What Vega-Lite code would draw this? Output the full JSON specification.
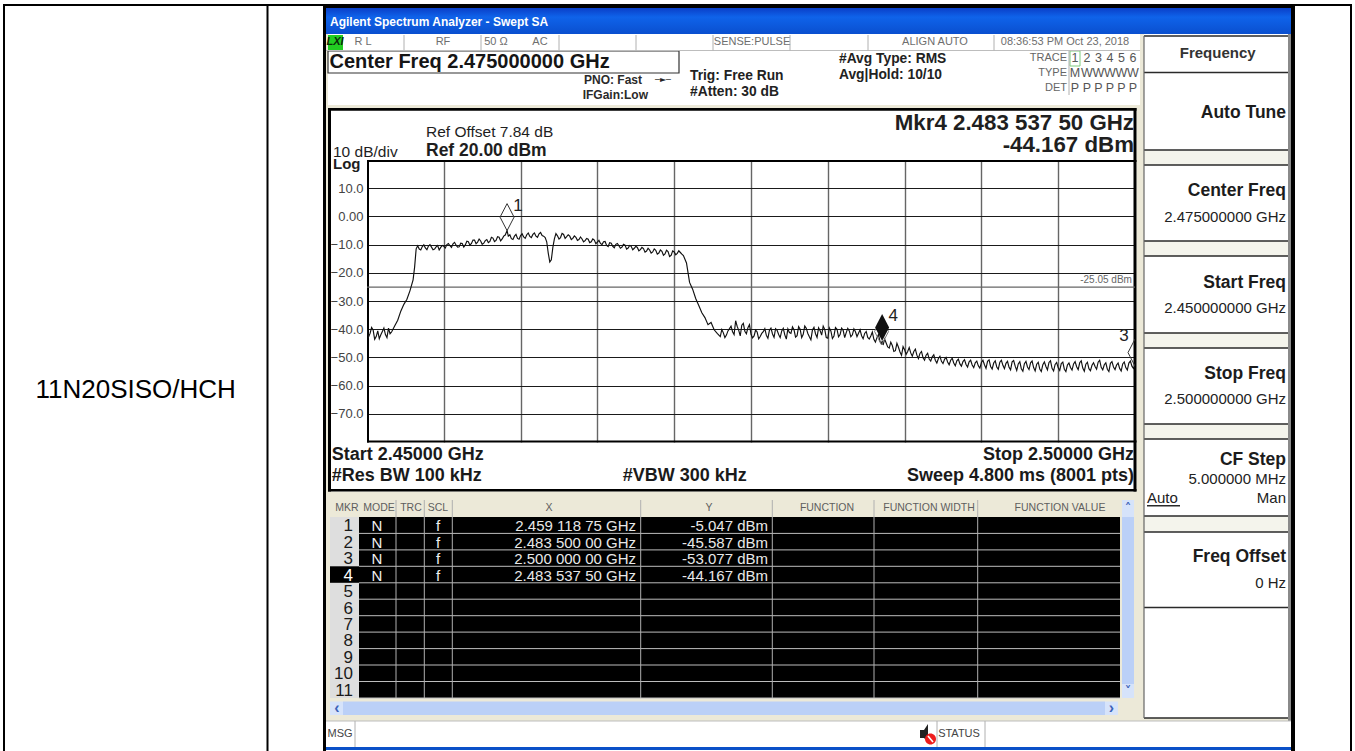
{"$schema":"https://vega.github.io/schema/vega-lite/v6.json","width":768,"height":282,"autosize":{"type":"none"},"padding":{"left":367,"top":160,"right":220,"bottom":309},"background":"#ffffff","config":{"view":{"stroke":null},"text":{"font":"Liberation Sans","baseline":"middle"},"axis":{"labelFont":"Liberation Sans"}},"resolve":{"scale":{"x":"independent","y":"independent"}},"layer":[
{"encoding":{"x":{"field":"gx","type":"quantitative","axis":null,"scale":{"nice":false,"zero":false,"domain":[0,1,2,3,4,5,6,7,8,9,10,11,12,13,14,15,16,17,18,19,20,21,22,23,24,25,26,27,28,29,30,31,32,33,34,35,36,37,38,39,40,41,42,43,44,45,46,47,48,49,50,51,52,53,54,55,56,57,58,59,60,61,62,63,64,65,66,67,68,69,70,71,72,73,74,75,76,77,78,79,80,81,82,83,84,85,86,87,88,89,90,91,92,93,94,95,96,97,98,99,100],"range":[-367,988,-364,-362,-100.5,-98.5,983,985,-44,928,-41,924,921,777,770,769.5,-39,753,755,767,-37,-8,29,57.3,85.3,273.7,405.3,507,610.7,738,751,-24,-12,570,618,37,114,192,269,346,423,501,627,773,312,702,-36,-231.3,-4,76,129,173,385,568,698,-37.5,275,281,296,323,472,700,708,720,731.5,743,754.5,766,850.7,919,780,813,59,-34,-35.3,255.7,-14,10,71,401,-20,12,44,182,342,460,562,693,761,-30,744.5,-27,592,0,766.5,2,560,703,713,918,-32]}},"y":{"field":"gy","type":"quantitative","axis":null,"scale":{"nice":false,"zero":false,"domain":[0,1,2,3,4,5,6,7,8,9,10,11,12,13,14,15,16,17,18,19,20,21,22,23,24,25,26,27,28,29,30,31,32,33,34,35,36,37,38,39,40,41,42,43,44,45,46,47,48,49,50,51,52,53,54,55,56,57,58,59,60,61,62,63,64,65,66,67,68,69,70,71,72,73,74,75,76,77,78,79,80,81,82,83,84,85,86,87,88,89,90,91,92,93,94,95,96,97,98,99,100,101,102,103,104],"range":[-160,591,-156,-154,-152,-126,-109.5,-87,-109,-55,-52,331.5,340,357,373.4,389.9,406.3,422.8,439.2,455.7,472.1,488.6,505,521.5,538,541.5,555,561,587,590,-124,-87.5,-10,5,81,96,173,188,264,279,356,372,447.5,558,0,-138.3,-118.3,-97.7,-80,-65,-84.3,-67.7,-100.7,-85,-102,-87,-72,-107.3,-47.3,31.3,56.7,122.7,147.7,214.3,239.3,300,319.3,338,397.3,423.3,345.7,-28,-9.3,-8.3,4,-37.3,-15,295,315.7,348,366.2,382.7,399.1,415.6,432,448.5,464.9,481.4,497.8,514.3,530.7,548,574,230,531,-125,120,282.5,-49.3,280.5,329,524,2,-94,-65]}}},
"layer":[
{"data":{"values":[{"gx":10,"gx2":11,"gy":4,"gy2":5}]},"mark":{"type":"rect","color":{"gradient":"linear","x1":0,"y1":0,"x2":0,"y2":1,"stops":[{"offset":0,"color":"#0A3FC8"},{"offset":0.35,"color":"#0F63EA"},{"offset":1,"color":"#0A4FCF"}]}},"encoding":{"x2":{"field":"gx2"},"y2":{"field":"gy2"}}},
{"data":{"values":[
{"p":"black","gx":2,"gx2":7,"gy":2,"gy2":3},{"p":"black","gx":2,"gx2":3,"gy":2,"gy2":1},{"p":"black","gx":4,"gx2":5,"gy":2,"gy2":1},{"p":"black","gx":6,"gx2":7,"gy":2,"gy2":1},
{"p":"black","gx":8,"gx2":10,"gy":2,"gy2":1},{"p":"black","gx":11,"gx2":9,"gy":2,"gy2":1},{"p":"black","gx":8,"gx2":9,"gy":2,"gy2":4},
{"p":"beige","gx":10,"gx2":16,"gy":5,"gy2":27},{"p":"beige","gx":10,"gx2":43,"gy":9,"gy2":10},{"p":"beige","gx":43,"gx2":13,"gy":5,"gy2":10},{"p":"beige","gx":15,"gx2":13,"gy":10,"gy2":27},{"p":"beige","gx":10,"gx2":13,"gy":11,"gy2":13},{"p":"beige","gx":10,"gx2":20,"gy":11,"gy2":27},{"p":"beige","gx":17,"gx2":13,"gy":12,"gy2":27},{"p":"beige","gx":10,"gx2":13,"gy":24,"gy2":27},{"p":"beige","gx":13,"gx2":11,"gy":43,"gy2":27},
{"p":"gap","gx":13,"gx2":12,"gy":32,"gy2":33},{"p":"gap","gx":13,"gx2":12,"gy":34,"gy2":35},{"p":"gap","gx":13,"gx2":12,"gy":36,"gy2":37},{"p":"gap","gx":13,"gx2":12,"gy":38,"gy2":39},{"p":"gap","gx":13,"gx2":12,"gy":40,"gy2":41},
{"p":"gray","gx":12,"gx2":11,"gy":5,"gy2":27},
{"p":"black","gx":16,"gx2":46,"gy":10,"gy2":11},{"p":"black","gx":16,"gx2":15,"gy":10,"gy2":98},{"p":"black","gx":94,"gx2":15,"gy":10,"gy2":11},{"p":"black","gx":16,"gx2":15,"gy":100,"gy2":11},{"p":"black","gx":93,"gx2":15,"gy":44,"gy2":102},{"p":"black","gx":93,"gx2":95,"gy":44,"gy2":97},{"p":"black","gx":93,"gx2":15,"gy":99,"gy2":97},
{"p":"rows","gx":20,"gx2":21,"gy":13,"gy2":24},{"p":"black","gx":21,"gx2":17,"gy":13,"gy2":24},{"p":"black","gx":20,"gx2":21,"gy":16,"gy2":17},
{"p":"scroll","gx":31,"gx2":29,"gy":25,"gy2":26},{"p":"button","gx":20,"gx2":31,"gy":25,"gy2":26},{"p":"button","gx":29,"gx2":30,"gy":25,"gy2":26},{"p":"scroll","gx":18,"gx2":19,"gy":13,"gy2":101},{"p":"button","gx":18,"gx2":19,"gy":12,"gy2":13},{"p":"button","gx":18,"gx2":19,"gy":101,"gy2":24},
{"p":"blue","gx":10,"gx2":11,"gy":28,"gy2":29},{"p":"lxi","gx":16,"gx2":31,"gy":95,"gy2":6}
]},"mark":{"type":"rect"},"encoding":{"x2":{"field":"gx2"},"y2":{"field":"gy2"},"color":{"field":"p","type":"nominal","legend":null,"scale":{"domain":["black","beige","gap","gray","rows","scroll","button","blue","lxi"],"range":["#000000","#ECE9D8","#F4F4EC","#8A8A8A","#DEDEDE","#BBD0F7","#D6E3FA","#0A50C8","#22CC22"]}}}},
{"data":{"values":[{"gx":16,"gx2":44,"gy":8,"gy2":7}]},"mark":{"type":"rect","fillOpacity":0,"stroke":"#333333","strokeWidth":1.2},"encoding":{"x2":{"field":"gx2"},"y2":{"field":"gy2"}}},
{"data":{"values":[{"gx":97,"gx2":98,"gy":8,"gy2":103}]},"mark":{"type":"rect","fillOpacity":0,"stroke":"#7FCC7F","strokeWidth":1},"encoding":{"x2":{"field":"gx2"},"y2":{"field":"gy2"}}},
{"data":{"values":[{"gx":21,"gx2":17,"gy":14},{"gx":21,"gx2":17,"gy":15},{"gx":21,"gx2":17,"gy":16},{"gx":21,"gx2":17,"gy":17},{"gx":21,"gx2":17,"gy":18},{"gx":21,"gx2":17,"gy":19},{"gx":21,"gx2":17,"gy":20},{"gx":21,"gx2":17,"gy":21},{"gx":21,"gx2":17,"gy":22},{"gx":21,"gx2":17,"gy":23},{"gx":21,"gx2":17,"gy":24},{"gx":10,"gx2":43,"gy":6},{"gx":10,"gx2":11,"gy":27}]},"mark":{"type":"rule","color":"#BDBDBD","strokeWidth":1},"encoding":{"x2":{"field":"gx2"}}},
{"data":{"values":[{"gx":22,"gy":12,"gy2":24},{"gx":23,"gy":12,"gy2":24},{"gx":24,"gy":12,"gy2":24},{"gx":25,"gy":12,"gy2":24},{"gx":26,"gy":12,"gy2":24},{"gx":27,"gy":12,"gy2":24},{"gx":28,"gy":12,"gy2":24},{"gx":35,"gy":95,"gy2":6},{"gx":36,"gy":95,"gy2":6},{"gx":37,"gy":95,"gy2":6},{"gx":38,"gy":95,"gy2":6},{"gx":39,"gy":95,"gy2":6},{"gx":40,"gy":95,"gy2":6},{"gx":41,"gy":95,"gy2":6},{"gx":42,"gy":95,"gy2":6},{"gx":45,"gy":8,"gy2":104},{"gx":32,"gy":27,"gy2":28},{"gx":33,"gy":27,"gy2":28},{"gx":34,"gy":27,"gy2":28}]},"mark":{"type":"rule","color":"#B0B0B0","strokeWidth":1},"encoding":{"y2":{"field":"gy2"}}},
{"data":{"values":[{"gx":13,"gx2":12,"gy":30},{"gx":13,"gx2":12,"gy":31},{"gx":13,"gx2":12,"gy":32},{"gx":13,"gx2":12,"gy":33},{"gx":13,"gx2":12,"gy":34},{"gx":13,"gx2":12,"gy":35},{"gx":13,"gx2":12,"gy":36},{"gx":13,"gx2":12,"gy":37},{"gx":13,"gx2":12,"gy":38},{"gx":13,"gx2":12,"gy":39},{"gx":13,"gx2":12,"gy":40},{"gx":13,"gx2":12,"gy":41},{"gx":13,"gx2":12,"gy":42},{"gx":13,"gx2":12,"gy":43},{"gx":70,"gx2":71,"gy":70}]},"mark":{"type":"rule","color":"#2A2A2A","strokeWidth":1.6},"encoding":{"x2":{"field":"gx2"}}},
{"data":{"values":[{"gx":13,"gy":30,"gy2":43}]},"mark":{"type":"rule","color":"#666666","strokeWidth":1.2},"encoding":{"y2":{"field":"gy2"}}},
{"data":{"values":[{"t":"11N20SISO/HCH","gx":47,"gy":93}]},"mark":{"type":"text","align":"center","fontSize":26,"color":"#000000"},"encoding":{"text":{"field":"t"}}},
{"data":{"values":[{"t":"Agilent Spectrum Analyzer - Swept SA","gx":20,"gy":45}]},"mark":{"type":"text","align":"left","fontSize":12,"fontWeight":"bold","color":"#ffffff"},"encoding":{"text":{"field":"t"}}},
{"data":{"values":[{"t":"LXI","gx":100,"gy":46}]},"mark":{"type":"text","align":"center","fontSize":11,"fontWeight":"bold","fontStyle":"italic","color":"#0A2A0A"},"encoding":{"text":{"field":"t"}}},
{"data":{"values":[{"t":"R L","gx":48,"gy":46},{"t":"RF","gx":49,"gy":46},{"t":"50 Ω","gx":50,"gy":46},{"t":"AC","gx":51,"gy":46},{"t":"SENSE:PULSE","gx":52,"gy":46},{"t":"ALIGN AUTO","gx":53,"gy":46},{"t":"08:36:53 PM Oct 23, 2018","gx":54,"gy":46}]},"mark":{"type":"text","align":"center","fontSize":11,"color":"#6E6E6E"},"encoding":{"text":{"field":"t"}}},
{"data":{"values":[{"t":"Center Freq 2.475000000 GHz","gx":55,"gy":47}]},"mark":{"type":"text","align":"left","fontSize":20,"fontWeight":"bold","color":"#151515"},"encoding":{"text":{"field":"t"}}},
{"data":{"values":[{"t":"PNO: Fast","gx":56,"gy":48},{"t":"IFGain:Low","gx":57,"gy":49}]},"mark":{"type":"text","align":"right","fontSize":12,"fontWeight":"bold","color":"#2A2A2A"},"encoding":{"text":{"field":"t"}}},
{"data":{"values":[{"t":"─►─","gx":58,"gy":48}]},"mark":{"type":"text","align":"center","fontSize":8,"font":"DejaVu Sans","color":"#222222"},"encoding":{"text":{"field":"t"}}},
{"data":{"values":[{"t":"Trig: Free Run","gx":59,"gy":50},{"t":"#Atten: 30 dB","gx":59,"gy":51},{"t":"#Avg Type: RMS","gx":60,"gy":52},{"t":"Avg|Hold: 10/10","gx":60,"gy":53}]},"mark":{"type":"text","align":"left","fontSize":13.8,"fontWeight":"bold","color":"#222222"},"encoding":{"text":{"field":"t"}}},
{"data":{"values":[{"t":"TRACE","gx":61,"gy":54},{"t":"TYPE","gx":61,"gy":55},{"t":"DET","gx":61,"gy":56}]},"mark":{"type":"text","align":"right","fontSize":11,"color":"#666666"},"encoding":{"text":{"field":"t"}}},
{"data":{"values":[{"t":"1","gx":62,"gy":54},{"t":"2","gx":63,"gy":54},{"t":"3","gx":64,"gy":54},{"t":"4","gx":65,"gy":54},{"t":"5","gx":66,"gy":54},{"t":"6","gx":67,"gy":54},{"t":"M","gx":62,"gy":55},{"t":"W","gx":63,"gy":55},{"t":"W","gx":64,"gy":55},{"t":"W","gx":65,"gy":55},{"t":"W","gx":66,"gy":55},{"t":"W","gx":67,"gy":55},{"t":"P","gx":62,"gy":56},{"t":"P","gx":63,"gy":56},{"t":"P","gx":64,"gy":56},{"t":"P","gx":65,"gy":56},{"t":"P","gx":66,"gy":56},{"t":"P","gx":67,"gy":56}]},"mark":{"type":"text","align":"center","fontSize":12.5,"color":"#555555"},"encoding":{"text":{"field":"t"}}},
{"data":{"values":[{"t":"Frequency","gx":68,"gy":57}]},"mark":{"type":"text","align":"center","fontSize":15,"fontWeight":"bold","color":"#333333"},"encoding":{"text":{"field":"t"}}},
{"data":{"values":[{"t":"Auto Tune","gx":69,"gy":58},{"t":"Center Freq","gx":69,"gy":59},{"t":"Start Freq","gx":69,"gy":61},{"t":"Stop Freq","gx":69,"gy":63},{"t":"CF Step","gx":69,"gy":65},{"t":"Freq Offset","gx":69,"gy":68}]},"mark":{"type":"text","align":"right","fontSize":17.5,"fontWeight":"bold","color":"#1C1C1C"},"encoding":{"text":{"field":"t"}}},
{"data":{"values":[{"t":"2.475000000 GHz","gx":69,"gy":60},{"t":"2.450000000 GHz","gx":69,"gy":62},{"t":"2.500000000 GHz","gx":69,"gy":64},{"t":"5.000000 MHz","gx":69,"gy":66},{"t":"0 Hz","gx":69,"gy":69},{"t":"Man","gx":69,"gy":67}]},"mark":{"type":"text","align":"right","fontSize":15,"color":"#222222"},"encoding":{"text":{"field":"t"}}},
{"data":{"values":[{"t":"Auto","gx":70,"gy":67}]},"mark":{"type":"text","align":"left","fontSize":15,"color":"#222222"},"encoding":{"text":{"field":"t"}}},
{"data":{"values":[{"t":"Ref Offset 7.84 dB","gx":72,"gy":71},{"t":"10 dB/div","gx":73,"gy":73}]},"mark":{"type":"text","align":"left","fontSize":15.5,"color":"#1E1E1E"},"encoding":{"text":{"field":"t"}}},
{"data":{"values":[{"t":"Log","gx":73,"gy":74}]},"mark":{"type":"text","align":"left","fontSize":15,"fontWeight":"bold","color":"#1E1E1E"},"encoding":{"text":{"field":"t"}}},
{"data":{"values":[{"t":"Ref  20.00 dBm","gx":72,"gy":72}]},"mark":{"type":"text","align":"left","fontSize":17.5,"fontWeight":"bold","color":"#1E1E1E"},"encoding":{"text":{"field":"t"}}},
{"data":{"values":[{"t":"Mkr4 2.483 537 50 GHz","gx":19,"gy":75},{"t":"-44.167 dBm","gx":19,"gy":76}]},"mark":{"type":"text","align":"right","fontSize":22.3,"fontWeight":"bold","color":"#1F1F1F"},"encoding":{"text":{"field":"t"}}},
{"data":{"values":[{"t":"Start 2.45000 GHz","gx":74,"gy":77},{"t":"#Res BW 100 kHz","gx":74,"gy":78},{"t":"#VBW 300 kHz","gx":75,"gy":78}]},"mark":{"type":"text","align":"left","fontSize":18,"fontWeight":"bold","color":"#1A1A1A"},"encoding":{"text":{"field":"t"}}},
{"data":{"values":[{"t":"Stop 2.50000 GHz","gx":19,"gy":77},{"t":"Sweep  4.800 ms (8001 pts)","gx":19,"gy":78}]},"mark":{"type":"text","align":"right","fontSize":18,"fontWeight":"bold","color":"#1A1A1A"},"encoding":{"text":{"field":"t"}}},
{"data":{"values":[{"t":"1","gx":76,"gy":80},{"t":"2","gx":76,"gy":81},{"t":"3","gx":76,"gy":82},{"t":"5","gx":76,"gy":84},{"t":"6","gx":76,"gy":85},{"t":"7","gx":76,"gy":86},{"t":"8","gx":76,"gy":87},{"t":"9","gx":76,"gy":88},{"t":"10","gx":76,"gy":89},{"t":"11","gx":76,"gy":90}]},"mark":{"type":"text","align":"right","fontSize":17,"color":"#1A1A1A"},"encoding":{"text":{"field":"t"}}},
{"data":{"values":[{"t":"4","gx":76,"gy":83}]},"mark":{"type":"text","align":"right","fontSize":17,"color":"#ffffff"},"encoding":{"text":{"field":"t"}}},
{"data":{"values":[{"t":"N","gx":77,"gy":80},{"t":"N","gx":77,"gy":81},{"t":"N","gx":77,"gy":82},{"t":"N","gx":77,"gy":83},{"t":"f","gx":78,"gy":80},{"t":"f","gx":78,"gy":81},{"t":"f","gx":78,"gy":82},{"t":"f","gx":78,"gy":83}]},"mark":{"type":"text","align":"center","fontSize":15,"color":"#F0F0F0"},"encoding":{"text":{"field":"t"}}},
{"data":{"values":[{"t":"2.459 118 75 GHz","gx":38,"gy":80},{"t":"2.483 500 00 GHz","gx":38,"gy":81},{"t":"2.500 000 00 GHz","gx":38,"gy":82},{"t":"2.483 537 50 GHz","gx":38,"gy":83},{"t":"-5.047 dBm","gx":79,"gy":80},{"t":"-45.587 dBm","gx":79,"gy":81},{"t":"-53.077 dBm","gx":79,"gy":82},{"t":"-44.167 dBm","gx":79,"gy":83}]},"mark":{"type":"text","align":"right","fontSize":15,"color":"#E8E8E8"},"encoding":{"text":{"field":"t"}}},
{"data":{"values":[{"t":"MKR","gx":80,"gy":79},{"t":"MODE","gx":81,"gy":79},{"t":"TRC","gx":82,"gy":79},{"t":"SCL","gx":78,"gy":79},{"t":"X","gx":83,"gy":79},{"t":"Y","gx":84,"gy":79},{"t":"FUNCTION","gx":85,"gy":79},{"t":"FUNCTION WIDTH","gx":86,"gy":79},{"t":"FUNCTION VALUE","gx":87,"gy":79}]},"mark":{"type":"text","align":"center","fontSize":10.5,"color":"#5E5E5E"},"encoding":{"text":{"field":"t"}}},
{"data":{"values":[{"t":"MSG","gx":91,"gy":92},{"t":"STATUS","gx":92,"gy":92}]},"mark":{"type":"text","align":"center","fontSize":11,"color":"#444444"},"encoding":{"text":{"field":"t"}}},
{"data":{"values":[{"t":"‹","gx":89,"gy":91},{"t":"›","gx":90,"gy":91}]},"mark":{"type":"text","align":"center","fontSize":16,"fontWeight":"bold","color":"#3C62B8"},"encoding":{"text":{"field":"t"}}},
{"data":{"values":[{"t":"˄","gx":88,"gy":79},{"t":"˅","gx":88,"gy":94}]},"mark":{"type":"text","align":"center","fontSize":13,"font":"DejaVu Sans","fontWeight":"bold","color":"#3C62B8"},"encoding":{"text":{"field":"t"}}},
{"data":{"values":[{"gx":96,"gy":92}]},"mark":{"type":"point","filled":true,"size":4,"color":"#222222","opacity":1,"shape":"M-7,-4L-3,-4L1,-10L1,8L-3,4L-7,4Z"}},
{"data":{"values":[{"gx":96,"gy":92}]},"mark":{"type":"point","filled":true,"size":4,"color":"#EE1C1C","opacity":1,"shape":"M-2,5a5.5,5.5 0 1,0 11,0a5.5,5.5 0 1,0 -11,0Z"}},
{"data":{"values":[{"gx":96,"gy":92}]},"mark":{"type":"point","filled":false,"size":4,"color":"#ffffff","strokeWidth":1.6,"opacity":1,"shape":"M1,2L6,8"}}
]},
{"encoding":{"x":{"field":"f","type":"quantitative","title":null,"scale":{"domain":[2450,2500],"nice":false,"zero":false},"axis":{"values":[2455,2460,2465,2470,2475,2480,2485,2490,2495],"labels":false,"ticks":false,"domain":false,"grid":true,"gridColor":"#666666","gridWidth":1.4,"title":null}},"y":{"field":"d","type":"quantitative","title":null,"scale":{"domain":[-80,20],"nice":false,"zero":false},"axis":{"values":[-70,-60,-50,-40,-30,-20,-10,0,10],"labelExpr":"datum.value==0?'0.00':format(datum.value,'.1f')","ticks":false,"domain":false,"grid":true,"gridColor":"#1A1A1A","gridWidth":1,"labelColor":"#444444","labelFontSize":13,"labelPadding":4,"labelOverlap":false,"title":null}}},
"layer":[
{"data":{"values":[{"d":-25.05}]},"mark":{"type":"rule","color":"#666666","strokeWidth":1.3},"encoding":{"x":null}},
{"data":{"values":[{"f":2450.0,"d":-39.8},{"f":2450.1,"d":-42.8},{"f":2450.2,"d":-41.5},{"f":2450.3,"d":-39.4},{"f":2450.4,"d":-40.3},{"f":2450.5,"d":-43.6},{"f":2450.6,"d":-42.6},{"f":2450.7,"d":-40.6},{"f":2450.8,"d":-43.4},{"f":2450.9,"d":-42.0},{"f":2451.0,"d":-40.8},{"f":2451.1,"d":-39.6},{"f":2451.2,"d":-41.9},{"f":2451.3,"d":-43.0},{"f":2451.4,"d":-39.6},{"f":2451.5,"d":-41.6},{"f":2451.6,"d":-41.0},{"f":2451.8,"d":-38.9},{"f":2452.0,"d":-36.8},{"f":2452.2,"d":-33.6},{"f":2452.4,"d":-31.2},{"f":2452.6,"d":-29.4},{"f":2452.8,"d":-26.3},{"f":2453.0,"d":-22.5},{"f":2453.1,"d":-18},{"f":2453.2,"d":-11.5},{"f":2453.3,"d":-10.4},{"f":2453.4,"d":-11.6},{"f":2453.5,"d":-11.9},{"f":2453.6,"d":-10.7},{"f":2453.7,"d":-10.1},{"f":2453.8,"d":-11.2},{"f":2453.9,"d":-11.8},{"f":2454.0,"d":-10.5},{"f":2454.1,"d":-10.0},{"f":2454.2,"d":-10.9},{"f":2454.3,"d":-11.8},{"f":2454.4,"d":-11.6},{"f":2454.5,"d":-10.8},{"f":2454.6,"d":-10.3},{"f":2454.7,"d":-11.9},{"f":2454.8,"d":-11.0},{"f":2454.9,"d":-10.3},{"f":2455.0,"d":-10.6},{"f":2455.1,"d":-11.2},{"f":2455.2,"d":-10.0},{"f":2455.3,"d":-9.6},{"f":2455.4,"d":-10.4},{"f":2455.5,"d":-11.0},{"f":2455.6,"d":-9.7},{"f":2455.7,"d":-9.2},{"f":2455.8,"d":-10.2},{"f":2455.9,"d":-10.9},{"f":2456.0,"d":-10.8},{"f":2456.1,"d":-9.5},{"f":2456.2,"d":-9.6},{"f":2456.3,"d":-10.9},{"f":2456.4,"d":-10.1},{"f":2456.5,"d":-8.8},{"f":2456.6,"d":-9.0},{"f":2456.7,"d":-10.2},{"f":2456.8,"d":-9.6},{"f":2456.9,"d":-8.4},{"f":2457.0,"d":-8.4},{"f":2457.1,"d":-9.7},{"f":2457.2,"d":-9.1},{"f":2457.3,"d":-8.0},{"f":2457.4,"d":-8.7},{"f":2457.5,"d":-9.9},{"f":2457.6,"d":-9.5},{"f":2457.7,"d":-8.6},{"f":2457.8,"d":-8.2},{"f":2457.9,"d":-9.3},{"f":2458.0,"d":-8.9},{"f":2458.1,"d":-7.4},{"f":2458.2,"d":-7.7},{"f":2458.3,"d":-8.9},{"f":2458.4,"d":-8.5},{"f":2458.5,"d":-7.2},{"f":2458.6,"d":-7.4},{"f":2458.7,"d":-8.7},{"f":2458.8,"d":-8.0},{"f":2458.9,"d":-7.0},{"f":2459.0,"d":-6.6},{"f":2459.12,"d":-5.05},{"f":2459.2,"d":-7.0},{"f":2459.3,"d":-6.5},{"f":2459.4,"d":-7.9},{"f":2459.5,"d":-8.2},{"f":2459.6,"d":-7.0},{"f":2459.7,"d":-6.4},{"f":2459.8,"d":-7.8},{"f":2459.9,"d":-8.1},{"f":2460.0,"d":-6.8},{"f":2460.1,"d":-6.2},{"f":2460.2,"d":-7.3},{"f":2460.3,"d":-7.8},{"f":2460.4,"d":-6.5},{"f":2460.5,"d":-5.9},{"f":2460.6,"d":-7.1},{"f":2460.7,"d":-7.5},{"f":2460.8,"d":-6.4},{"f":2460.9,"d":-5.9},{"f":2461.0,"d":-7.0},{"f":2461.1,"d":-7.4},{"f":2461.2,"d":-6.2},{"f":2461.3,"d":-5.7},{"f":2461.4,"d":-6.8},{"f":2461.5,"d":-7.0},{"f":2461.6,"d":-7.5},{"f":2461.7,"d":-9},{"f":2461.8,"d":-13},{"f":2461.9,"d":-16.2},{"f":2462.0,"d":-15.4},{"f":2462.1,"d":-11},{"f":2462.2,"d":-8},{"f":2462.3,"d":-6.1},{"f":2462.4,"d":-6.9},{"f":2462.5,"d":-8.0},{"f":2462.6,"d":-7.5},{"f":2462.7,"d":-6.0},{"f":2462.8,"d":-6.4},{"f":2462.9,"d":-7.8},{"f":2463.0,"d":-7.2},{"f":2463.1,"d":-6.5},{"f":2463.2,"d":-7.0},{"f":2463.3,"d":-8.2},{"f":2463.4,"d":-7.8},{"f":2463.5,"d":-6.9},{"f":2463.6,"d":-7.4},{"f":2463.7,"d":-8.5},{"f":2463.8,"d":-8.2},{"f":2463.9,"d":-7.3},{"f":2464.0,"d":-8.0},{"f":2464.1,"d":-9.0},{"f":2464.2,"d":-8.6},{"f":2464.3,"d":-7.8},{"f":2464.4,"d":-8.1},{"f":2464.5,"d":-9.3},{"f":2464.6,"d":-9.0},{"f":2464.7,"d":-8.0},{"f":2464.8,"d":-8.4},{"f":2464.9,"d":-9.7},{"f":2465.0,"d":-9.1},{"f":2465.1,"d":-8.5},{"f":2465.2,"d":-9.6},{"f":2465.3,"d":-10.0},{"f":2465.4,"d":-9.0},{"f":2465.5,"d":-8.9},{"f":2465.6,"d":-10.3},{"f":2465.7,"d":-10.7},{"f":2465.8,"d":-9.3},{"f":2465.9,"d":-9.5},{"f":2466.0,"d":-10.6},{"f":2466.1,"d":-11.1},{"f":2466.2,"d":-9.9},{"f":2466.3,"d":-9.6},{"f":2466.4,"d":-10.4},{"f":2466.5,"d":-11.3},{"f":2466.6,"d":-10.9},{"f":2466.7,"d":-9.9},{"f":2466.8,"d":-10.2},{"f":2466.9,"d":-11.6},{"f":2467.0,"d":-11.2},{"f":2467.1,"d":-10.3},{"f":2467.2,"d":-10.6},{"f":2467.3,"d":-11.8},{"f":2467.4,"d":-11.3},{"f":2467.5,"d":-10.6},{"f":2467.6,"d":-11.0},{"f":2467.7,"d":-12.2},{"f":2467.8,"d":-11.8},{"f":2467.9,"d":-11.0},{"f":2468.0,"d":-11.4},{"f":2468.1,"d":-12.7},{"f":2468.2,"d":-12.3},{"f":2468.3,"d":-11.3},{"f":2468.4,"d":-11.9},{"f":2468.5,"d":-13.0},{"f":2468.6,"d":-12.6},{"f":2468.7,"d":-11.5},{"f":2468.8,"d":-12.0},{"f":2468.9,"d":-13.4},{"f":2469.0,"d":-13.0},{"f":2469.1,"d":-11.9},{"f":2469.2,"d":-12.4},{"f":2469.3,"d":-13.8},{"f":2469.4,"d":-13.3},{"f":2469.5,"d":-12.0},{"f":2469.6,"d":-12.5},{"f":2469.7,"d":-14.2},{"f":2469.8,"d":-13.8},{"f":2469.9,"d":-12.2},{"f":2470.0,"d":-12.6},{"f":2470.1,"d":-13.6},{"f":2470.2,"d":-13.1},{"f":2470.3,"d":-12.2},{"f":2470.4,"d":-12.8},{"f":2470.5,"d":-13.4},{"f":2470.6,"d":-13.9},{"f":2470.8,"d":-16.5},{"f":2471.0,"d":-23.4},{"f":2471.2,"d":-25.8},{"f":2471.4,"d":-29.1},{"f":2471.6,"d":-31.6},{"f":2471.8,"d":-34.2},{"f":2472.0,"d":-35.9},{"f":2472.2,"d":-38.4},{"f":2472.4,"d":-37.6},{"f":2472.6,"d":-40.2},{"f":2472.8,"d":-41.5},{"f":2473.0,"d":-42.6},{"f":2473.1,"d":-40.1},{"f":2473.2,"d":-41.3},{"f":2473.3,"d":-43.0},{"f":2473.4,"d":-42.1},{"f":2473.5,"d":-40.6},{"f":2473.6,"d":-39.8},{"f":2473.7,"d":-38.9},{"f":2473.8,"d":-40.9},{"f":2473.9,"d":-41.9},{"f":2474.0,"d":-37.0},{"f":2474.1,"d":-39.0},{"f":2474.2,"d":-40.4},{"f":2474.3,"d":-42.4},{"f":2474.4,"d":-38.6},{"f":2474.5,"d":-37.9},{"f":2474.6,"d":-40.7},{"f":2474.7,"d":-41.6},{"f":2474.8,"d":-39.5},{"f":2474.9,"d":-38.4},{"f":2475.0,"d":-41.8},{"f":2475.1,"d":-43.1},{"f":2475.2,"d":-42.4},{"f":2475.3,"d":-40.3},{"f":2475.4,"d":-41.0},{"f":2475.5,"d":-43.4},{"f":2475.6,"d":-42.6},{"f":2475.7,"d":-41.5},{"f":2475.8,"d":-40.9},{"f":2475.9,"d":-39.8},{"f":2476.0,"d":-42.2},{"f":2476.1,"d":-43.2},{"f":2476.2,"d":-40.4},{"f":2476.3,"d":-39.6},{"f":2476.4,"d":-41.7},{"f":2476.5,"d":-42.9},{"f":2476.6,"d":-39.8},{"f":2476.7,"d":-40.4},{"f":2476.8,"d":-41.9},{"f":2476.9,"d":-43.0},{"f":2477.0,"d":-40.6},{"f":2477.1,"d":-39.7},{"f":2477.2,"d":-42.0},{"f":2477.3,"d":-43.5},{"f":2477.4,"d":-39.9},{"f":2477.5,"d":-41.2},{"f":2477.6,"d":-41.5},{"f":2477.7,"d":-39.2},{"f":2477.8,"d":-40.2},{"f":2477.9,"d":-42.8},{"f":2478.0,"d":-42.3},{"f":2478.1,"d":-39.1},{"f":2478.2,"d":-40.0},{"f":2478.3,"d":-43.0},{"f":2478.4,"d":-41.8},{"f":2478.5,"d":-38.9},{"f":2478.6,"d":-39.7},{"f":2478.7,"d":-41.5},{"f":2478.8,"d":-42.7},{"f":2478.9,"d":-43.8},{"f":2479.0,"d":-40.3},{"f":2479.1,"d":-39.3},{"f":2479.2,"d":-41.6},{"f":2479.3,"d":-42.9},{"f":2479.4,"d":-39.5},{"f":2479.5,"d":-40.5},{"f":2479.6,"d":-42.1},{"f":2479.7,"d":-38.9},{"f":2479.8,"d":-40.1},{"f":2479.9,"d":-43.0},{"f":2480.0,"d":-43.2},{"f":2480.1,"d":-39.5},{"f":2480.2,"d":-40.6},{"f":2480.3,"d":-43.3},{"f":2480.4,"d":-42.4},{"f":2480.5,"d":-39.4},{"f":2480.6,"d":-40.0},{"f":2480.7,"d":-42.7},{"f":2480.8,"d":-41.9},{"f":2480.9,"d":-39.6},{"f":2481.0,"d":-40.4},{"f":2481.1,"d":-43.0},{"f":2481.2,"d":-41.2},{"f":2481.3,"d":-39.7},{"f":2481.4,"d":-40.6},{"f":2481.5,"d":-42.7},{"f":2481.6,"d":-42.0},{"f":2481.7,"d":-39.9},{"f":2481.8,"d":-40.9},{"f":2481.9,"d":-42.6},{"f":2482.0,"d":-41.4},{"f":2482.1,"d":-40.2},{"f":2482.2,"d":-42.3},{"f":2482.3,"d":-43.4},{"f":2482.4,"d":-41.5},{"f":2482.5,"d":-40.8},{"f":2482.6,"d":-42.9},{"f":2482.7,"d":-43.5},{"f":2482.8,"d":-42.4},{"f":2482.9,"d":-41.0},{"f":2483.0,"d":-43.6},{"f":2483.1,"d":-44.6},{"f":2483.2,"d":-43.0},{"f":2483.3,"d":-41.9},{"f":2483.4,"d":-44.4},{"f":2483.5,"d":-45.2},{"f":2483.54,"d":-44.17},{"f":2483.6,"d":-45.6},{"f":2483.7,"d":-43.5},{"f":2483.8,"d":-44.9},{"f":2483.9,"d":-46.3},{"f":2484.0,"d":-46.7},{"f":2484.1,"d":-44.6},{"f":2484.2,"d":-45.8},{"f":2484.3,"d":-47.9},{"f":2484.4,"d":-47.6},{"f":2484.5,"d":-45.0},{"f":2484.6,"d":-46.4},{"f":2484.7,"d":-48.1},{"f":2484.8,"d":-49.3},{"f":2484.9,"d":-46.2},{"f":2485.0,"d":-47.3},{"f":2485.1,"d":-48.9},{"f":2485.2,"d":-47.9},{"f":2485.3,"d":-46.5},{"f":2485.4,"d":-48.4},{"f":2485.5,"d":-49.6},{"f":2485.6,"d":-47.9},{"f":2485.7,"d":-47.1},{"f":2485.8,"d":-49.2},{"f":2485.9,"d":-50.4},{"f":2486.0,"d":-48.6},{"f":2486.1,"d":-47.9},{"f":2486.2,"d":-50.1},{"f":2486.3,"d":-51.0},{"f":2486.4,"d":-49.2},{"f":2486.5,"d":-48.5},{"f":2486.6,"d":-50.6},{"f":2486.7,"d":-51.3},{"f":2486.8,"d":-49.8},{"f":2486.9,"d":-49.1},{"f":2487.0,"d":-51.0},{"f":2487.1,"d":-52.0},{"f":2487.2,"d":-50.4},{"f":2487.3,"d":-49.6},{"f":2487.4,"d":-51.4},{"f":2487.5,"d":-52.2},{"f":2487.6,"d":-50.7},{"f":2487.7,"d":-50.0},{"f":2487.8,"d":-51.6},{"f":2487.9,"d":-52.6},{"f":2488.0,"d":-51.0},{"f":2488.1,"d":-50.3},{"f":2488.2,"d":-52.0},{"f":2488.3,"d":-53.0},{"f":2488.4,"d":-51.2},{"f":2488.5,"d":-50.6},{"f":2488.6,"d":-52.3},{"f":2488.7,"d":-53.1},{"f":2488.8,"d":-51.5},{"f":2488.9,"d":-50.8},{"f":2489.0,"d":-52.5},{"f":2489.1,"d":-53.4},{"f":2489.2,"d":-51.6},{"f":2489.3,"d":-51.0},{"f":2489.4,"d":-52.7},{"f":2489.5,"d":-53.6},{"f":2489.6,"d":-51.9},{"f":2489.7,"d":-51.3},{"f":2489.8,"d":-53.0},{"f":2489.9,"d":-53.8},{"f":2490.0,"d":-51.8},{"f":2490.1,"d":-51.0},{"f":2490.2,"d":-52.6},{"f":2490.3,"d":-53.9},{"f":2490.4,"d":-51.4},{"f":2490.5,"d":-50.9},{"f":2490.6,"d":-53.2},{"f":2490.7,"d":-54.1},{"f":2490.8,"d":-52.0},{"f":2490.9,"d":-51.2},{"f":2491.0,"d":-53.4},{"f":2491.1,"d":-54.2},{"f":2491.2,"d":-51.7},{"f":2491.3,"d":-51.0},{"f":2491.4,"d":-52.8},{"f":2491.5,"d":-54.0},{"f":2491.6,"d":-52.1},{"f":2491.7,"d":-51.4},{"f":2491.8,"d":-53.5},{"f":2491.9,"d":-54.4},{"f":2492.0,"d":-51.6},{"f":2492.1,"d":-51.1},{"f":2492.2,"d":-53.1},{"f":2492.3,"d":-54.6},{"f":2492.4,"d":-52.3},{"f":2492.5,"d":-51.5},{"f":2492.6,"d":-54.0},{"f":2492.7,"d":-54.9},{"f":2492.8,"d":-52.2},{"f":2492.9,"d":-51.4},{"f":2493.0,"d":-53.4},{"f":2493.1,"d":-54.3},{"f":2493.2,"d":-51.9},{"f":2493.3,"d":-51.3},{"f":2493.4,"d":-53.6},{"f":2493.5,"d":-54.8},{"f":2493.6,"d":-52.4},{"f":2493.7,"d":-51.7},{"f":2493.8,"d":-54.1},{"f":2493.9,"d":-55.0},{"f":2494.0,"d":-52.6},{"f":2494.1,"d":-51.6},{"f":2494.2,"d":-53.2},{"f":2494.3,"d":-54.4},{"f":2494.4,"d":-51.8},{"f":2494.5,"d":-51.2},{"f":2494.6,"d":-53.9},{"f":2494.7,"d":-54.8},{"f":2494.8,"d":-52.5},{"f":2494.9,"d":-51.8},{"f":2495.0,"d":-53.7},{"f":2495.1,"d":-54.6},{"f":2495.2,"d":-52.2},{"f":2495.3,"d":-51.7},{"f":2495.4,"d":-54.2},{"f":2495.5,"d":-55.0},{"f":2495.6,"d":-52.7},{"f":2495.7,"d":-52.0},{"f":2495.8,"d":-53.6},{"f":2495.9,"d":-54.5},{"f":2496.0,"d":-52.3},{"f":2496.1,"d":-51.5},{"f":2496.2,"d":-53.3},{"f":2496.3,"d":-54.3},{"f":2496.4,"d":-51.9},{"f":2496.5,"d":-51.2},{"f":2496.6,"d":-53.8},{"f":2496.7,"d":-54.9},{"f":2496.8,"d":-52.4},{"f":2496.9,"d":-51.7},{"f":2497.0,"d":-54.0},{"f":2497.1,"d":-54.7},{"f":2497.2,"d":-52.8},{"f":2497.3,"d":-51.9},{"f":2497.4,"d":-53.2},{"f":2497.5,"d":-54.2},{"f":2497.6,"d":-51.7},{"f":2497.7,"d":-51.0},{"f":2497.8,"d":-53.5},{"f":2497.9,"d":-54.4},{"f":2498.0,"d":-52.6},{"f":2498.1,"d":-51.9},{"f":2498.2,"d":-54.2},{"f":2498.3,"d":-55.0},{"f":2498.4,"d":-52.1},{"f":2498.5,"d":-51.5},{"f":2498.6,"d":-53.4},{"f":2498.7,"d":-54.3},{"f":2498.8,"d":-52.7},{"f":2498.9,"d":-52.0},{"f":2499.0,"d":-53.9},{"f":2499.1,"d":-54.8},{"f":2499.2,"d":-52.3},{"f":2499.3,"d":-51.6},{"f":2499.4,"d":-53.6},{"f":2499.5,"d":-54.5},{"f":2499.6,"d":-52.0},{"f":2499.7,"d":-51.3},{"f":2499.8,"d":-53.1},{"f":2499.9,"d":-53.9},{"f":2500.0,"d":-53.08}]},"mark":{"type":"line","color":"#111111","strokeWidth":1.15,"clip":true}},
{"data":{"values":[{"f":2459.11875,"d":-5.047},{"f":2500,"d":-53.077}]},"mark":{"type":"point","clip":true,"filled":false,"size":4,"color":"#333333","strokeWidth":1,"opacity":1,"shape":"M0,0L-7,-13.5L0,-27L7,-13.5Z"}},
{"data":{"values":[{"f":2483.5,"d":-45.587}]},"mark":{"type":"point","filled":false,"size":4,"color":"#777777","strokeWidth":1,"opacity":1,"shape":"M0,0L-7,-13.5L0,-27L7,-13.5Z"}},
{"data":{"values":[{"f":2483.5375,"d":-44.167}]},"mark":{"type":"point","filled":true,"size":4,"color":"#111111","opacity":1,"shape":"M0,0L-7,-13.5L0,-27L7,-13.5Z"}},
{"data":{"values":[{"f":2459.11875,"d":-5.047,"m":"1"},{"f":2483.5375,"d":-44.167,"m":"4"}]},"mark":{"type":"text","fontSize":17,"dx":11,"dy":-25,"color":"#222222"},"encoding":{"text":{"field":"m"}}},
{"data":{"values":[{"f":2500,"d":-53.077,"m":"3"}]},"mark":{"type":"text","fontSize":17,"dx":-11,"dy":-30,"color":"#222222"},"encoding":{"text":{"field":"m"}}},
{"data":{"values":[{"f":2499.8,"d":-22.6,"m":"-25.05 dBm"}]},"mark":{"type":"text","align":"right","fontSize":10,"color":"#666666"},"encoding":{"text":{"field":"m"}}}
]}
]}
